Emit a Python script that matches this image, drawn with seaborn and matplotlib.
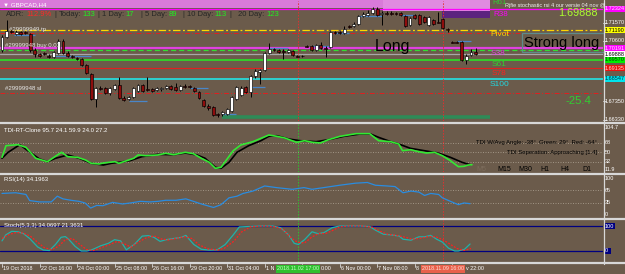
import matplotlib
matplotlib.use("Agg")
import matplotlib.pyplot as plt
import seaborn as sns
import numpy as np
from matplotlib.patches import Rectangle

# ---------------- data ----------------
symbol = "GBPCAD,H4"
open_ = [1.7011,1.7081,1.7114,1.7097,1.7108,1.7108,1.7097,1.7011,1.6989,1.6995,
         1.6979,1.6973,1.6995,1.7060,1.6995,1.6979,1.6968,1.6962,1.6930,1.6881,
         1.6746,1.6806,1.6806,1.6779,1.6800,1.6822,1.6752,1.6746,1.6757,1.6790,
         1.6822,1.6800,1.6800,1.6795,1.6800,1.6806,1.6817,1.6811,1.6795,1.6817,
         1.6817,1.6806,1.6784,1.6741,1.6709,1.6703,1.6665,1.6665,1.6665,1.6682,
         1.6746,1.6768,1.6811,1.6784,1.6871,1.6892,1.6903,1.6995,1.7016,1.7011,
         1.7005,1.7000,1.7005,1.6979,1.6979,1.7033,1.7033,1.7011,1.7038,1.7022,
         1.7027,1.7108,1.7108,1.7103,1.7141,1.7141,1.7151,1.7195,1.7200,1.7211,
         1.7232,1.7205,1.7211,1.7211,1.7211,1.7211,1.7195,1.7146,1.7200,1.7200,
         1.7189,1.7146,1.7173,1.7162,1.7178,1.7124,1.7054,1.7054,1.7054,1.6957,
         1.6984,1.7000]
high = [1.7092,1.7173,1.7124,1.7119,1.7114,1.7114,1.7103,1.7022,1.6995,1.7000,
        1.6989,1.7005,1.7070,1.7070,1.7005,1.6984,1.6973,1.6968,1.6935,1.6887,
        1.6811,1.6817,1.6811,1.6811,1.6827,1.6865,1.6763,1.6763,1.6811,1.6827,
        1.6827,1.6865,1.6806,1.6811,1.6811,1.6822,1.6822,1.6833,1.6822,1.6827,
        1.6822,1.6811,1.6790,1.6746,1.6719,1.6709,1.6671,1.6682,1.6698,1.6763,
        1.6817,1.6817,1.6817,1.6876,1.6908,1.6908,1.7000,1.7049,1.7022,1.7016,
        1.7016,1.7016,1.7011,1.6984,1.6984,1.7038,1.7038,1.7043,1.7054,1.7033,
        1.7114,1.7114,1.7114,1.7141,1.7146,1.7162,1.7200,1.7216,1.7227,1.7243,
        1.7243,1.7222,1.7222,1.7222,1.7216,1.7216,1.7200,1.7189,1.7205,1.7205,
        1.7195,1.7195,1.7178,1.7216,1.7184,1.7130,1.7060,1.7060,1.7060,1.6989,
        1.7016,1.7022]
low = [1.7000,1.7076,1.7103,1.7092,1.7092,1.7097,1.7000,1.6973,1.6973,1.6984,
       1.6968,1.6968,1.6989,1.6989,1.6973,1.6968,1.6957,1.6925,1.6881,1.6741,
       1.6703,1.6795,1.6773,1.6768,1.6795,1.6746,1.6736,1.6741,1.6752,1.6784,
       1.6784,1.6790,1.6784,1.6790,1.6790,1.6800,1.6795,1.6790,1.6790,1.6806,
       1.6806,1.6784,1.6746,1.6703,1.6687,1.6655,1.6649,1.6655,1.6660,1.6676,
       1.6741,1.6763,1.6779,1.6757,1.6860,1.6827,1.6898,1.6989,1.7005,1.6995,
       1.6962,1.6995,1.6979,1.6973,1.6973,1.7027,1.7005,1.7005,1.7016,1.6973,
       1.7022,1.7097,1.7097,1.7097,1.7130,1.7135,1.7146,1.7189,1.7195,1.7205,
       1.7195,1.7146,1.7200,1.7200,1.7200,1.7195,1.7135,1.7141,1.7178,1.7146,
       1.7157,1.7141,1.7146,1.7157,1.7124,1.7108,1.7049,1.7049,1.6952,1.6935,
       1.6979,1.6984]
close = [1.7081,1.7114,1.7108,1.7108,1.7097,1.7103,1.7011,1.6989,1.6979,1.6989,
         1.6973,1.7000,1.7060,1.6995,1.6979,1.6973,1.6962,1.6930,1.6887,1.6746,
         1.6806,1.6800,1.6779,1.6806,1.6822,1.6752,1.6741,1.6757,1.6806,1.6822,
         1.6790,1.6795,1.6790,1.6806,1.6806,1.6817,1.6800,1.6795,1.6817,1.6811,
         1.6811,1.6790,1.6752,1.6709,1.6698,1.6660,1.6660,1.6676,1.6692,1.6757,
         1.6811,1.6806,1.6784,1.6871,1.6898,1.6903,1.6995,1.7016,1.7011,1.7000,
         1.7000,1.7011,1.6984,1.6973,1.6979,1.7027,1.7011,1.7038,1.7022,1.7016,
         1.7108,1.7103,1.7103,1.7124,1.7135,1.7151,1.7195,1.7205,1.7211,1.7232,
         1.7200,1.7211,1.7205,1.7205,1.7205,1.7200,1.7141,1.7184,1.7184,1.7151,
         1.7162,1.7189,1.7151,1.7157,1.7130,1.7119,1.7049,1.7049,1.6957,1.6979,
         1.7000,1.6989]

# short blue "fractal" segments: start bar, end bar, price
seg_start = [2.5, 11, 27, 40, 47, 53, 57, 66, 71, 76, 85, 97]
seg_end   = [7, 19, 31, 44, 50, 56, 61, 70, 74, 81, 88, 100]
seg_price = [1.7092, 1.6979, 1.6736, 1.6806, 1.6665, 1.6811, 1.7022, 1.7033, 1.7103, 1.7195, 1.7200, 1.7060]

# horizontal levels
lv_price = [1.72324, 1.71190, 1.71028, 1.70191, 1.70110, 1.69888, 1.69570, 1.69135, 1.68547, 1.67790]
tick_prices = [1.71570, 1.70600, 1.67350, 1.66330]
green_zone_price = 1.6649
green_zone_bars = (46.9, 104.0)
vline_bars = [63.1, 94.0]

# TDI
tdi_g_i = [0,0.85,3.4,5.1,7.2,9.7,11.4,12.7,14.0,16.1,17.8,19.0,20.7,21.6,24.1,24.9,26.4,28.1,29.0,30.7,
           33.2,34.9,36.6,39.1,40.8,42.5,44.2,45.5,46.7,48.0,49.3,50.9,53.5,56.9,58.6,60.3,62.8,64.5,66.2,67.9,
           69.6,72.1,75.5,78.4,80.3,82.9,84.6,85.4,87.1,88.8,90.5,92.2,93.9,95.6,97.3,98.5,99.4,100.2]
tdi_g_v = [40.3,62.8,64.7,59.6,38.4,31.8,42.3,50.0,41.5,40.3,35.1,28.7,27.4,29.3,31.8,28.7,33.2,38.4,44.8,43.4,
           44.8,48.0,45.4,50.0,47.3,38.4,30.6,19.0,21.0,37.0,53.1,64.1,70.5,83.4,80.9,77.6,69.3,72.4,69.3,68.0,
           74.4,80.9,86.0,86.0,72.4,70.5,66.0,53.1,55.0,51.2,48.6,50.0,43.4,33.8,22.2,22.9,25.4,26.0]
tdi_b_i = [0,1.3,3.8,5.5,8.0,9.7,11.4,14.0,16.5,19.0,21.6,23.3,24.9,27.3,29.8,33.2,36.6,39.1,41.6,43.3,
           45.5,46.7,48.4,50.1,52.6,55.2,56.9,58.6,61.1,63.6,67.0,69.6,72.9,76.3,78.6,80.3,82.9,84.6,87.1,90.5,
           93.0,95.6,98.1,99.8]
tdi_b_v = [38.4,50.0,64.7,53.1,37.0,31.8,38.4,44.8,38.4,28.7,25.4,28.7,30.6,33.8,41.5,46.0,45.4,48.6,44.8,38.4,
           21.0,19.0,30.6,50.0,62.8,72.4,80.9,82.1,75.7,72.4,70.5,74.4,80.9,85.3,85.3,78.9,70.5,66.0,57.6,52.4,
           48.6,40.3,30.6,26.0]

# RSI
rsi_i = [0,2.9,5.1,5.9,8.0,10.5,11.8,13.0,14.7,16.4,17.7,18.9,20.2,21.5,23.6,25.7,27.4,29.5,31.6,33.3,
         34.9,37.1,39.2,40.8,42.5,45.1,46.7,48.4,50.1,51.4,53.5,56.0,58.5,61.9,64.4,66.1,68.6,72.0,75.4,77.9,
         79.6,82.1,83.8,85.5,87.2,88.9,90.1,91.4,93.1,93.9,95.6,97.3,98.5,99.8]
rsi_v = [57.1,58.7,54.8,40.5,37.4,37.4,50.7,44.5,41.2,38.8,35.0,23.1,29.3,28.6,36.4,32.6,35.0,38.8,37.4,38.8,
         41.2,41.2,44.5,38.8,32.6,24.5,31.0,46.9,50.7,57.1,62.6,74.5,70.7,66.7,70.7,66.7,70.7,76.2,81.0,82.6,
         76.2,74.5,73.1,58.7,62.6,60.2,52.4,57.1,54.8,46.9,38.8,31.0,35.0,33.3]

# Stochastic
sto_i = [0,0.8,2.1,3.4,4.6,5.9,7.6,8.8,10.1,11.4,12.6,13.5,14.3,15.6,16.9,18.1,19.4,21.1,22.7,24.0,
         25.3,26.5,28.2,29.9,31.2,32.4,33.7,35.0,36.6,38.3,39.2,40.9,42.5,44.2,45.9,47.6,49.3,50.6,52.7,55.2,
         57.7,59.4,61.1,62.3,63.2,64.5,66.1,67.4,68.7,70.4,72.0,73.7,76.2,78.4,79.6,81.3,83.0,84.7,85.5,87.2,
         88.9,90.1,91.4,92.7,93.9,95.2,96.5,97.3,98.6,99.8]
sto_v = [40.4,64.4,78.8,76.9,69.2,50,16.3,3.8,1.9,26,54.8,57.7,45.2,18.3,0,0,6.7,21.2,30.8,45.2,
         40.4,4.8,26,59.6,61.5,54.8,38.5,45.2,50,54.8,62.5,26,6.7,3.8,4.8,26,64.4,96.2,98.1,100,
         100,93.3,64.4,30.8,26,45.2,76.9,69.2,74,93.3,100,100,100,98.1,83.7,67.3,64.4,59.6,47.1,43.3,
         56.7,56.7,62.5,47.1,35.6,11.5,0,0,6.7,27.9]
sig_i = [0,1.5,3,4.5,6,7.6,9,10.5,12,13.5,15,16.5,18,19.5,21,23,24.5,26,27.5,29,31,32.5,34,35.5,37,39,40.5,
         42,44,46,47.5,49.5,51,53,56,58.5,60,61.5,63,64.5,66,67.5,69,70.5,72,74,77,79,80.5,82,84,86,87.5,
         89.5,91,92.5,94,95.5,97,98.5,100]
sig_v = [50,66,74,72,60,35,14,5,18,45,50,28,6,2,12,26,38,30,15,35,55,60,48,44,50,57,50,25,8,4,12,40,75,
         97,100,96,85,55,35,32,55,70,70,82,97,100,100,95,80,68,63,55,47,52,58,57,45,28,10,2,10]

# time axis labels (visible parts; the vertical-line date boxes hide the rest)
date_bars = [0, 8, 16, 24, 32, 40, 48, 56, 72, 80, 88]
date_labels = ["19 Oct 2018", "22 Oct 16:00", "24 Oct 00:00", "25 Oct 08:00", "26 Oct 16:00",
               "29 Oct 20:00", "31 Oct 04:00", "1 N", "6 Nov 00:00", "7 Nov 08:00", "8"]
tail_labels = ["0:00", "v 22:00"]
vline_labels = ["2018.11.02 17:00", "2018.11.09 16:00"]

# ---------------- style / layout ----------------
sns.set_style("dark")
plt.rcParams['font.family'] = ['Liberation Sans', 'DejaVu Sans']

W, H = 625, 274
BG = "#6B5B4B"
SP = 4.69   # px per bar
X0 = 2.0
RIGHT = 603
fig = plt.figure(figsize=(W/100, H/100), dpi=100, facecolor=BG)

def px_ax(x0, y0, x1, y1, z=1):
    ax = fig.add_axes([x0/W, 1-y1/H, (x1-x0)/W, (y1-y0)/H], zorder=z)
    ax.patch.set_alpha(0)
    ax.set_xticks([]); ax.set_yticks([])
    ax.set_xlabel(""); ax.set_ylabel("")
    for s in ax.spines.values():
        s.set_visible(False)
    ax.set_xlim(-X0/SP, (RIGHT-X0)/SP)
    return ax

bg = fig.add_axes([0, 0, 1, 1], zorder=0); bg.set_xlim(0, W); bg.set_ylim(H, 0); bg.axis('off')
fg = fig.add_axes([0, 0, 1, 1], zorder=10); fg.set_xlim(0, W); fg.set_ylim(H, 0); fg.axis('off')

def ftxt(x, y, s, **kw):
    d = dict(va='center', ha='left', fontsize=4.6, color='white')
    d.update(kw)
    return fg.text(x, y, s, **d)

def bx(x): return X0 + SP*x

# ---------------- main chart ----------------
PTOP = 1.7281; PPX = 0.00054
def py(p): return (PTOP - p)/PPX
ax = px_ax(0, 1, RIGHT, 121, z=2)
ax.set_ylim(PTOP - PPX*121, PTOP - PPX*1)

# background objects (pixel space)
bg.add_patch(Rectangle((0, 0), 490, 8, fc="#D97AD9", ec='none'))
bg.add_patch(Rectangle((383, 0), 107, 11, fc="#E08AE0", ec='none'))
bg.add_patch(Rectangle((442, 11), 48, 6.5, fc="#5B237F", ec='none'))

lv_style = [("#FF00FF", '-', 0.9), ("#FFD700", (0, (6, 2, 1.5, 2)), 0.9), ("#E02020", (0, (5, 2, 1, 2)), 0.7),
            ("#E040E0", '-', 1.6), ("#33DD33", (0, (4, 2.5)), 0.9), ("#A8A8A8", '-', 0.9),
            ("#22EE22", '-', 1.1), ("#E02020", '-', 0.8), ("#22E5E5", '-', 1.2), ("#E02020", (0, (5, 2, 1, 2)), 0.7)]
for p, (c, ls, lw) in zip(lv_price, lv_style):
    ax.axhline(p, color=c, linestyle=ls, linewidth=lw, zorder=1)
ax.hlines(green_zone_price, *green_zone_bars, color="#2E8B57", linewidth=2.6, zorder=1)
for vb in vline_bars:
    ax.axvline(vb, color="#E03030", linestyle=(0, (1.5, 1.5)), linewidth=0.7, zorder=1)

for s0, s1, p in zip(seg_start, seg_end, seg_price):
    ax.hlines(p, s0, s1, color="#4A86C8", linewidth=0.9, zorder=2)

idx = np.arange(len(open_))
o = np.array(open_); c = np.array(close); h = np.array(high); l = np.array(low)
ax.vlines(idx, l, h, color="black", linewidth=0.7, zorder=3)
bottom = np.minimum(o, c)
height = np.maximum(np.abs(c - o), 0.00010)
cols = ["white" if cc >= oo else "#8E0D0D" for oo, cc in zip(o, c)]
ax.bar(idx, height, bottom=bottom, width=0.62, color=cols, edgecolor="black", linewidth=0.45, zorder=4)

# texts on main chart
ftxt(3, 4.3, "▼ " + symbol, fontsize=4.4, color="white")
adr_parts = [("ADR:", "#262626", 2), ("112.9%", "#FF2A2A", 2.5), ("|", "#262626", 2.5), ("Today:", "#262626", 1.5),
             ("133", "#22F022", 2.5), ("|", "#262626", 2.5), ("1 Day:", "#262626", 1.5), ("17", "#22F022", 6),
             ("|", "#262626", 2.5), ("5 Day:", "#262626", 1.5), ("89", "#22F022", 6), ("|", "#262626", 2.5),
             ("10 Day:", "#262626", 1.5), ("113", "#22F022", 2.5), ("|", "#262626", 7), ("20 Day:", "#262626", 1.5),
             ("123", "#22F022", 0)]
r = fig.canvas.get_renderer()
xx = 6
for s, col, gap in adr_parts:
    t = ftxt(xx, 14.5, s, color=col, fontsize=5.5)
    xx += t.get_window_extent(renderer=r).width + gap

ftxt(9, 29.8, "#29999949 tp", fontsize=4.3, color="#E6E6E6")
ftxt(5, 45.5, "#29999948 buy 0.01", fontsize=4.3, color="#E6E6E6")
ftxt(5, 88.5, "#29999948 sl", fontsize=4.3, color="#E6E6E6")
ftxt(505, 5.2, "Rjfie stochastic rsi 4 our versie 04 nov @", fontsize=4.0, color="#F0F0F0")
ftxt(558, 13.5, "1.69888", fontsize=7.8, color="#ADFF2F")
ftxt(492, 2.3, "R61", fontsize=5.6, color="#32CD32")
ftxt(493, 14, "R38", fontsize=5.8, color="#FF00FF")
ftxt(490, 34, "Pivot", fontsize=6, color="#FFD700")
ftxt(491, 53.5, "S38", fontsize=6, color="#E040E0")
ftxt(492, 64.5, "S61", fontsize=6, color="#32CD32")
ftxt(492, 73.5, "S78", fontsize=6, color="#FF2020")
ftxt(490, 84.5, "S100", fontsize=6, color="#22D8E0")
ftxt(565, 101.5, "-25.4", fontsize=8.2, color="#32CD32")
ftxt(375, 46, "Long", fontsize=11.5, color="black")
fg.add_patch(Rectangle((521.5, 32.5), 82, 19.5, fc='none', ec="#5E8C8C", lw=0.9))
ftxt(523.5, 42.5, "Strong long", fontsize=10.5, color="black")

# right price scale
RFS = 4.0
for p in tick_prices:
    yy = min(py(p), 119.5)
    fg.plot([RIGHT, RIGHT+2.5], [yy, yy], color="#E0E0E0", lw=0.6)
    ftxt(604.5, yy, f"{p:.5f}", fontsize=RFS)
box_spec = [(0, "#FF00FF", "#FFE0FF"), (1, "#FFFF00", "black"), (3, "#FF00FF", "#FFE0FF"),
            (5, "#FFFFFF", "black"), (6, "#00EE00", "#004000"), (7, "#EE1010", "#FFD0D0"),
            (8, "#00E5EE", "#003040")]
for k, fc, tc in box_spec:
    yy = py(lv_price[k])
    fg.add_patch(Rectangle((604, yy-3), 22, 6, fc=fc, ec='none'))
    ftxt(604.5, yy, f"{lv_price[k]:.5f}", fontsize=RFS, color=tc)

# ---------------- TDI ----------------
TLO, THI = 11.9, 104.7
axT = px_ax(0, 124, RIGHT, 172, z=2)
axT.set_ylim(TLO, THI)
for v in (68, 50, 32):
    axT.axhline(v, color="#A89C8C", linestyle=(0, (1.2, 1.8)), linewidth=0.6, zorder=0)
axT.axvline(vline_bars[0], color="#30C030", linestyle=(0, (1.5, 1.5)), linewidth=0.7)
axT.axvline(vline_bars[1], color="#E03030", linestyle=(0, (1.5, 1.5)), linewidth=0.7)
sns.lineplot(x=tdi_b_i, y=tdi_b_v, ax=axT, color="black", linewidth=1.2, estimator=None, sort=False)
sns.lineplot(x=tdi_g_i, y=tdi_g_v, ax=axT, color="#33E833", linewidth=1.2, estimator=None, sort=False)
axT.set_xlabel(""); axT.set_ylabel("")
def ty(v): return 172 - (v - TLO)/(THI - TLO)*48
ftxt(4, 130, "TDI-RT-Clone 95.7 24.1 59.9 24.0 27.2", fontsize=4.3)
ftxt(597, ty(68), "TDI W/Avg Angle: -38°  Green: 29°  Red: -64°", ha='right', fontsize=4.3, color="black")
ftxt(597, ty(50), "TDI Seperation: Approaching [1.4]", ha='right', fontsize=4.3, color="black")
ftxt(476, 169.3, "M5", fontsize=5, color="#7C6C5C")
for x_, s_ in zip([497, 518, 540, 560, 582], ["M15", "M30", "H1", "H4", "D1"]):
    ftxt(x_, 169.3, s_, fontsize=5, color="black")
for s_, v_ in [("104.7", 104.7), ("68", 68), ("50", 50), ("32", 32), ("11.9", 11.9)]:
    yy = min(max(ty(v_), 127.5), 169.5)
    ftxt(605, yy, s_, fontsize=RFS)

# ---------------- RSI ----------------
axR = px_ax(0, 175, RIGHT, 218, z=2)
axR.set_ylim(0, 100)
for v in (65, 35):
    axR.axhline(v, color="#A89C8C", linestyle=(0, (1.2, 1.8)), linewidth=0.6, zorder=0)
axR.axvline(vline_bars[0], color="#30C030", linestyle=(0, (1.5, 1.5)), linewidth=0.7)
axR.axvline(vline_bars[1], color="#E03030", linestyle=(0, (1.5, 1.5)), linewidth=0.7)
sns.lineplot(x=rsi_i, y=rsi_v, ax=axR, color="#2A8CE0", linewidth=0.9, estimator=None, sort=False)
axR.set_xlabel(""); axR.set_ylabel("")
ftxt(4, 179, "RSI(14) 34.1963", fontsize=4.3)
for s_, yy in [("100", 178), ("65", 218-0.65*43), ("35", 218-0.35*43), ("0", 215)]:
    ftxt(605, yy, s_, fontsize=RFS)

# ---------------- Stochastic ----------------
SLO, SHI = -44, 124
axS = px_ax(0, 220, RIGHT, 262, z=2)
axS.set_ylim(SLO, SHI)
for v in (100, 0):
    axS.axhline(v, color="#000080", linewidth=0.9, zorder=0)
axS.axvline(vline_bars[0], color="#30C030", linestyle=(0, (1.5, 1.5)), linewidth=0.7)
axS.axvline(vline_bars[1], color="#E03030", linestyle=(0, (1.5, 1.5)), linewidth=0.7)
sns.lineplot(x=sto_i, y=sto_v, ax=axS, color="#20B2AA", linewidth=0.9, estimator=None, sort=False)
sns.lineplot(x=sig_i, y=sig_v, ax=axS, color="#FF2020", linewidth=0.9, linestyle=(0, (1.5, 1.2)),
             estimator=None, sort=False)
axS.set_xlabel(""); axS.set_ylabel("")
def sy(v): return 262 - (v - SLO)/(SHI - SLO)*42
ftxt(4, 226, "Stoch(5,3,3) 34.0697 21.3631", fontsize=4.3)
for s_, v_ in [("100", 100), ("0", 0)]:
    yy = sy(v_)
    fg.add_patch(Rectangle((604, yy-3), 11 if s_ == "100" else 7, 6, fc="#000080", ec='none'))
    ftxt(605, yy, s_, fontsize=RFS)

# ---------------- frame & separators ----------------
FR = "#D8D8D8"
for yy in (122.5, 173.5, 219, 263.3):
    fg.plot([0, W], [yy, yy], color=FR, lw=1.6, solid_capstyle='butt')
fg.plot([RIGHT+0.5, RIGHT+0.5], [0, 264], color=FR, lw=0.9)

# ---------------- date axis ----------------
DFS = 3.9
for b in [0, 8, 16, 24, 32, 40, 48, 56, 64, 72, 80, 88, 96]:
    x_ = bx(b)
    fg.plot([x_, x_], [263.5, 266.5], color=FR, lw=0.6)
for b, s_ in zip(date_bars, date_labels):
    ftxt(bx(b) + 1.2, 268.5, s_, fontsize=DFS)
box_fc = ["#2EC02E", "#E8604A"]
box_tc = ["#C8FFC8", "#FFE0D8"]
for b, s_, fc, tc, tail in zip(vline_bars, vline_labels, box_fc, box_tc, tail_labels):
    x_ = bx(b)
    fg.add_patch(Rectangle((x_-22, 264.5), 44, 8, fc=fc, ec='none', zorder=5))
    ftxt(x_, 268.5, s_, ha='center', fontsize=DFS, color=tc, zorder=6)
    ftxt(x_ + 22.8, 268.5, tail, fontsize=DFS)

fig.savefig("out.png", dpi=100, facecolor=BG)
